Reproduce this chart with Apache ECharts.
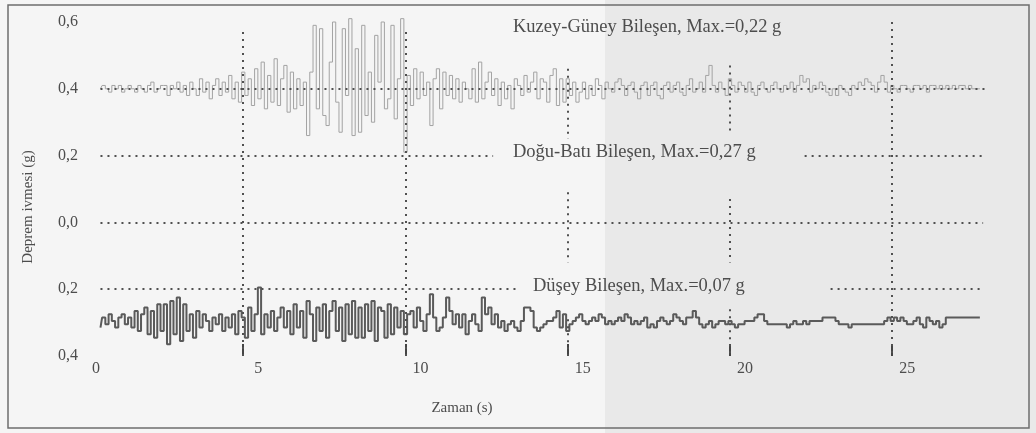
<!DOCTYPE html>
<html>
<head>
<meta charset="utf-8">
<title>Deprem ivmesi</title>
<script src="https://cdn.jsdelivr.net/npm/echarts@6/dist/echarts.min.js"></script>
<style>
  html, body { margin: 0; padding: 0; background: #f3f3f3; }
  #chart { width: 1036px; height: 433px; }
</style>
</head>
<body>
<div id="chart"></div>
<script>
  // zaman ekseni: ilk örnek ve örnekleme aralığı (s)
  const T0 = 0.6;
  const DT = 0.1;

  const xTicks = [0, 5, 10, 15, 20, 25];
  const gridTicks = [5, 10, 15, 20, 25];

  // Kuzey-Güney bileşeni, 0,4 çizgisi etrafındaki sapma (g)
  const kuzeyBase = 0.4;
  const kuzeyG = [
    0, 0.01, 0, -0.01, 0.01, 0, 0.01, -0.01, 0, 0.01,
    0, -0.01, 0.01, 0, -0.01, 0.01, 0.02, -0.01, 0, 0.01,
    0.01, -0.02, 0.01, 0, 0.02, -0.01, 0.01, -0.02, 0.02, 0,
    -0.02, 0.03, -0.01, 0.02, -0.03, 0.01, 0.03, -0.02, 0.02, -0.01,
    0.04, -0.03, 0.02, -0.04, 0.05, -0.02, 0.03, -0.05, 0.06, -0.03,
    0.08, -0.06, 0.04, -0.04, 0.09, -0.05, 0.03, 0.07, -0.07, 0.05,
    -0.06, 0.03, -0.05, 0.02, -0.14, 0.05, 0.19, -0.06, 0.18, -0.08,
    -0.11, 0.08, 0.2, -0.04, -0.13, 0.18, -0.02, 0.21, -0.14, 0.12,
    -0.13, 0.19, -0.08, 0.05, -0.1, 0.16, 0.02, 0.2, -0.06, -0.03,
    0.19, -0.09, 0.03, 0.21, -0.19, 0.04, -0.05, 0.06, -0.03, 0.05,
    -0.02, 0.02, -0.11, 0.03, 0.06, -0.06, 0.05, -0.02, 0.04, -0.03,
    0.03, -0.04, 0.02, 0, -0.03, 0.06, -0.04, 0.08, -0.03, 0.02,
    0.05, -0.02, 0.03, -0.05, 0.02, -0.03, 0.01, -0.06, 0.03, 0.01,
    -0.02, 0.04, -0.01, 0.02, 0.05, -0.03, 0.03, 0.02, -0.04, 0.04,
    0.06, -0.05, 0.03, -0.04, 0.03, -0.02, 0.02, -0.04, -0.01, 0.02,
    -0.03, 0.01, -0.02, 0.03, 0.01, -0.03, 0.02, 0, -0.01, 0.02,
    0.03, 0.01, -0.02, 0.01, 0.02, -0.01, -0.03, 0.01, 0.02, -0.02,
    0.01, 0.02, -0.02, -0.03, 0.01, 0.02, -0.01, 0.01, 0.02, -0.01,
    -0.02, 0.01, 0.03, -0.01, 0, 0.02, -0.01, 0.04, 0.07, 0.01,
    -0.01, 0.02, 0, -0.02, 0.03, 0.01, -0.01, 0.02, 0.01, -0.01,
    0.02, -0.01, -0.02, 0.01, 0.02, 0, -0.01, 0.01, 0.02, 0,
    -0.01, 0.01, 0, 0.02, -0.01, 0.01, 0.04, 0.02, 0.03, -0.01,
    0.01, 0, 0.02, 0.01, -0.01, -0.02, 0, -0.02, 0.01, 0,
    -0.01, -0.02, 0.01, 0, 0.02, 0.01, 0.03, 0.02, 0.01, -0.01,
    0.02, 0.04, 0.02, -0.01, 0.01, 0, -0.01, 0.01, 0.01, 0,
    -0.01, 0.01, 0.01, 0, 0.01, -0.01, 0.01, 0.01, 0, 0.01,
    0, 0.01, 0, 0.01, 0, 0.01, 0.01, 0, 0.01, 0,
    0, 0
  ];

  // Düşey bileşen, -0,3 çizgisi etrafındaki sapma (g)
  const dusetBase = -0.295;
  const dusetG = [
    -0.02, 0.01, -0.01, 0.02, 0, -0.02, 0.01, 0.02, -0.01, 0.01,
    -0.02, 0.03, -0.03, 0.02, 0.04, -0.04, 0.03, -0.05, 0.05, -0.03,
    0.05, -0.07, 0.06, -0.04, 0.07, -0.06, 0.05, -0.03, 0.02, -0.05,
    0.03, -0.02, 0.02, 0, -0.03, 0.01, -0.01, 0.02, -0.03, 0.01,
    -0.02, 0.02, -0.04, 0.03, 0.01, -0.05, 0.04, -0.03, 0.02, 0.1,
    -0.04, 0.02, -0.02, 0.03, -0.03, 0.01, 0.04, -0.02, 0.03, -0.04,
    0.05, -0.02, 0.03, -0.05, 0.06, 0.02, -0.06, 0.04, -0.03, 0.05,
    -0.05, 0.03, 0.06, -0.03, 0.04, -0.06, 0.05, -0.04, 0.06, -0.05,
    0.04, -0.05, 0.05, -0.03, 0.06, -0.06, 0.04, 0.03, -0.05, 0.05,
    -0.04, 0.04, -0.02, 0.03, -0.04, 0.02, 0.03, -0.02, 0.04, 0,
    -0.03, 0.02, 0.08, 0.01, -0.03, -0.02, 0.01, 0.07, 0.03, -0.01,
    0.02, -0.02, 0.02, -0.04, 0, 0.02, -0.01, -0.03, 0.07, 0.02,
    0.04, -0.01, 0.02, -0.02, 0, -0.03, -0.01, 0, -0.02, -0.03,
    0, 0.04, 0.04, 0.03, -0.02, -0.03, -0.02, -0.01, 0, 0,
    0.01, 0.03, -0.02, 0.02, -0.03, -0.01, 0, 0.01, 0.02, 0,
    -0.01, 0, 0.01, 0, 0.02, 0.01, -0.01, 0, -0.01, 0,
    0.01, 0, 0.02, 0.01, -0.01, 0, -0.01, 0, 0.01, -0.02,
    -0.01, -0.02, 0, 0.01, 0, -0.01, 0, 0.02, 0.01, 0,
    -0.01, 0.01, 0.01, 0.03, 0.01, -0.01, -0.02, -0.01, 0, -0.02,
    -0.01, 0, 0, -0.01, 0, -0.01, -0.02, -0.01, -0.01, 0,
    0, 0, 0.01, 0.02, 0.02, 0, -0.01, -0.01, -0.01, -0.01,
    -0.01, -0.01, -0.02, -0.01, 0, -0.01, -0.01, 0, -0.01, 0,
    0, 0, 0, 0.01, 0.01, 0.01, 0.01, 0, -0.01, -0.01,
    -0.01, -0.02, -0.01, -0.01, -0.01, -0.01, -0.01, -0.01, -0.01, -0.01,
    -0.01, -0.01, 0, 0.01, 0, 0.01, 0, 0.01, 0, -0.01,
    -0.01, 0, 0.01, -0.01, -0.02, 0.01, 0, -0.01, 0, -0.02,
    -0.01, 0.01, 0.01, 0.01, 0.01, 0.01, 0.01, 0.01, 0.01, 0.01,
    0.01, 0.01
  ];

  function toSeries(vals, base) {
    return vals.map((v, i) => [+(T0 + i * DT).toFixed(2), +(base + v).toFixed(3)]);
  }

  const serif = 'Liberation Serif';
  const ink = '#4d4d4d';
  const dotStyle = { color: '#505050', width: 2, type: [2, 5] };

  function seg(x1, y1, x2, y2) {
    return [{ coord: [x1, y1] }, { coord: [x2, y2] }];
  }

  const chart = echarts.init(document.getElementById('chart'));
  chart.setOption({
    animation: false,
    backgroundColor: '#f5f5f5',
    grid: { left: 81, right: 49, top: 22, bottom: 77 },
    graphic: [
      { type: 'rect', z: -10, shape: { x: 605, y: 0, width: 431, height: 433 }, style: { fill: '#e9e9e9' } },
      { type: 'rect', shape: { x: 8, y: 5, width: 1021, height: 423 }, style: { fill: 'none', stroke: '#6e6e6e', lineWidth: 1.5 } },
      { type: 'text', x: 513, y: 18, style: { text: 'Kuzey-Güney Bileşen, Max.=0,22 g', font: '18.5px ' + serif, fill: ink } },
      { type: 'text', x: 513, y: 143, style: { text: 'Doğu-Batı Bileşen, Max.=0,27 g', font: '18.5px ' + serif, fill: ink } },
      { type: 'text', x: 533, y: 277, style: { text: 'Düşey Bileşen, Max.=0,07 g', font: '18.5px ' + serif, fill: ink } },
      { type: 'text', x: 462, y: 408, style: { text: 'Zaman (s)', font: '15px ' + serif, fill: ink, align: 'center', verticalAlign: 'middle' } },
      { type: 'text', x: 28, y: 207, rotation: Math.PI / 2, style: { text: 'Deprem ivmesi (g)', font: '15px ' + serif, fill: ink, align: 'center', verticalAlign: 'middle' } }
    ],
    xAxis: {
      type: 'value',
      min: 0,
      max: 27.92,
      axisLine: { show: false, onZero: false },
      splitLine: { show: false },
      axisTick: { show: true, inside: true, length: 12, customValues: gridTicks, lineStyle: { color: '#444', width: 2 } },
      axisLabel: {
        customValues: xTicks,
        margin: 5,
        padding: [0, 0, 0, 30],
        fontFamily: serif,
        fontSize: 16,
        color: ink
      }
    },
    yAxis: {
      type: 'value',
      min: -0.4,
      max: 0.6,
      interval: 0.2,
      axisLine: { show: false },
      axisTick: { show: false },
      splitLine: { show: false },
      axisLabel: {
        margin: 3,
        fontFamily: serif,
        fontSize: 16,
        color: ink,
        formatter: v => Math.abs(v).toFixed(1).replace('.', ',')
      }
    },
    series: [
      {
        name: 'Kuzey-Güney',
        type: 'line',
        step: 'middle',
        showSymbol: false,
        clip: false,
        z: 3,
        lineStyle: { color: '#a3a3a3', width: 1 },
        data: toSeries(kuzeyG, kuzeyBase),
        markLine: {
          silent: true,
          symbol: 'none',
          label: { show: false },
          lineStyle: dotStyle,
          data: [
            seg(0.6, 0.4, 27.9, 0.4),
            seg(0.6, 0.2, 12.7, 0.2),
            seg(22.3, 0.2, 27.8, 0.2),
            seg(0.6, 0, 27.8, 0),
            seg(0.6, -0.2, 13.4, -0.2),
            seg(23.1, -0.2, 27.8, -0.2),
            seg(5, 0.57, 5, -0.4),
            seg(10, 0.57, 10, -0.4),
            seg(15, 0.46, 15, 0.25),
            seg(15, 0.09, 15, -0.12),
            seg(15, -0.29, 15, -0.4),
            seg(20, 0.47, 20, 0.26),
            seg(20, 0.07, 20, -0.12),
            seg(20, -0.26, 20, -0.4),
            seg(25, 0.6, 25, -0.4)
          ]
        }
      },
      {
        name: 'Düşey',
        type: 'line',
        step: 'middle',
        showSymbol: false,
        z: 4,
        lineStyle: { color: '#5a5a5a', width: 2 },
        data: toSeries(dusetG, dusetBase)
      }
    ]
  });
</script>
</body>
</html>
